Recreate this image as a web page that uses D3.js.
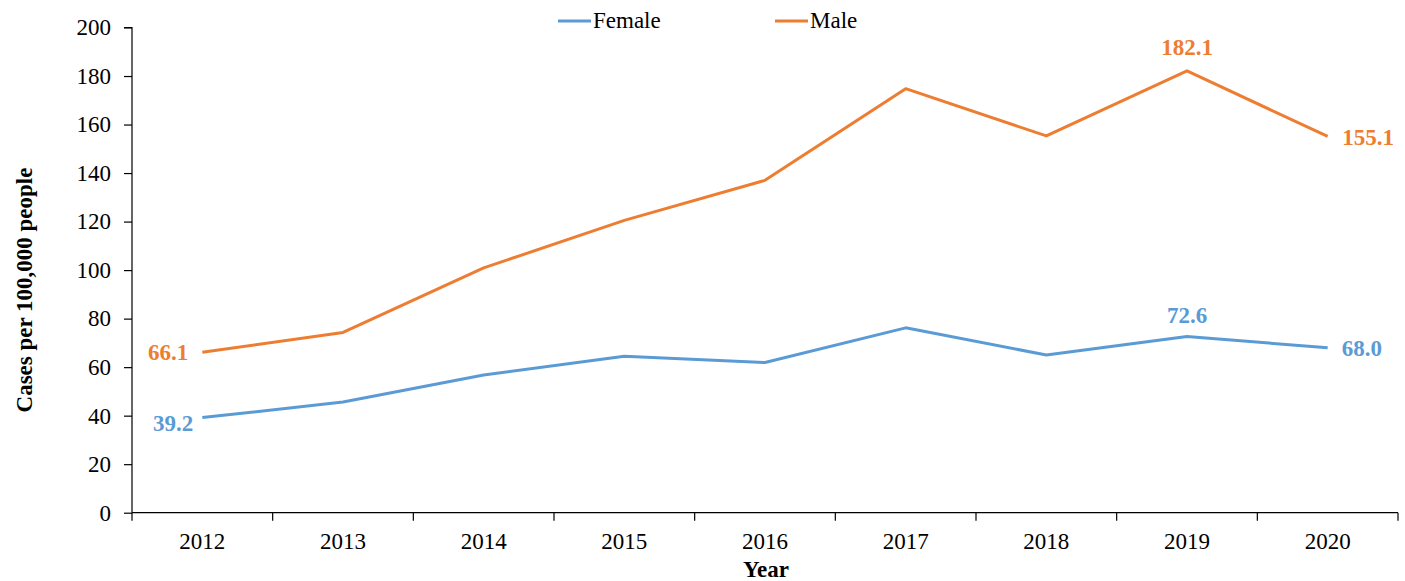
<!DOCTYPE html>
<html><head><meta charset="utf-8">
<script src="https://cdn.jsdelivr.net/npm/d3@7"></script>
<style>body{margin:0;background:#fff;} text{font-family:"Liberation Serif","Times New Roman",serif;}</style>
</head><body><svg id="c" width="1405" height="581"></svg>
<script>
const years = ["2012","2013","2014","2015","2016","2017","2018","2019","2020"];
const female = [39.2,45.6,56.8,64.5,61.9,76.2,65.0,72.6,68.0];
const male = [66.1,74.3,100.9,120.5,137.0,174.8,155.3,182.1,155.1];
const yTicks = [0,20,40,60,80,100,120,140,160,180,200];
const seriesNames = ["Female","Male"];
const colors = ["#5B9BD5","#ED7D31"];

(function(){
const svg = d3.select("#c");
const pL = 132, pR = 1398, pT = 27.5, pB = 512.7;
const x = d3.scaleBand().domain(years).range([pL,pR]);
const y = d3.scaleLinear().domain([0,200]).range([pB,pT]);

// y axis
const ya = svg.append("g").attr("transform",`translate(${pL},0)`)
  .call(d3.axisLeft(y).tickValues(yTicks).tickSize(8).tickPadding(13));
ya.selectAll("text").attr("font-size",23).attr("fill","#000").style("font-family","Liberation Serif");
ya.select(".domain").attr("stroke","#000").attr("stroke-width",1.2).attr("d",`M-8,${pT}H0V${pB}`);
ya.selectAll(".tick line").attr("stroke","#000").attr("stroke-width",1.2);

// x axis
const xa = svg.append("g").attr("transform",`translate(0,${pB})`)
  .call(d3.axisBottom(x).tickSize(0).tickPadding(20));
xa.selectAll("text").attr("font-size",23).attr("fill","#000").style("font-family","Liberation Serif");
xa.select(".domain").attr("stroke","#000").attr("stroke-width",1.2).attr("d",`M${pL},0H${pR}`);
const bounds = years.map(d=>x(d)).concat([pR]);
xa.selectAll(".bnd").data(bounds).enter().append("line").attr("class","bnd")
  .attr("x1",d=>d).attr("x2",d=>d).attr("y1",0).attr("y2",8).attr("stroke","#000").attr("stroke-width",1.2);

// titles
svg.append("text").attr("transform",`translate(32,290) rotate(-90)`)
  .attr("text-anchor","middle").attr("font-size",23).attr("font-weight","bold")
  .text("Cases per 100,000 people");
svg.append("text").attr("x",766).attr("y",577).attr("text-anchor","middle")
  .attr("font-size",23).attr("font-weight","bold").text("Year");

// lines
const line = d3.line().x((d,i)=>x(years[i])+x.bandwidth()/2).y(d=>y(d));
[female,male].forEach((s,k)=>{
  svg.append("path").datum(s).attr("d",line).attr("fill","none")
    .attr("stroke",colors[k]).attr("stroke-width",3).attr("stroke-linejoin","round");
});

// data labels
const cx = i => x(years[i])+x.bandwidth()/2;
const labels = [
  {s:0,i:0,dx:-9,dy:13,anchor:"end"},
  {s:0,i:7,dx:0,dy:-14,anchor:"middle"},
  {s:0,i:8,dx:14,dy:8,anchor:"start"},
  {s:1,i:0,dx:-14,dy:8,anchor:"end"},
  {s:1,i:7,dx:0,dy:-15.5,anchor:"middle"},
  {s:1,i:8,dx:14.5,dy:9,anchor:"start"}
];
const data = [female,male];
labels.forEach(l=>{
  svg.append("text").attr("x",cx(l.i)+l.dx).attr("y",y(data[l.s][l.i])+l.dy)
    .attr("text-anchor",l.anchor).attr("font-size",23).attr("font-weight","bold")
    .attr("fill",colors[l.s]).text(data[l.s][l.i].toFixed(1));
});

// legend
const legX = [558,775];
seriesNames.forEach((n,k)=>{
  svg.append("line").attr("x1",legX[k]).attr("x2",legX[k]+33).attr("y1",21).attr("y2",21)
    .attr("stroke",colors[k]).attr("stroke-width",3);
  svg.append("text").attr("x",legX[k]+35).attr("y",27.5).attr("font-size",23).attr("fill","#000").text(n);
});
})();
</script></body></html>
